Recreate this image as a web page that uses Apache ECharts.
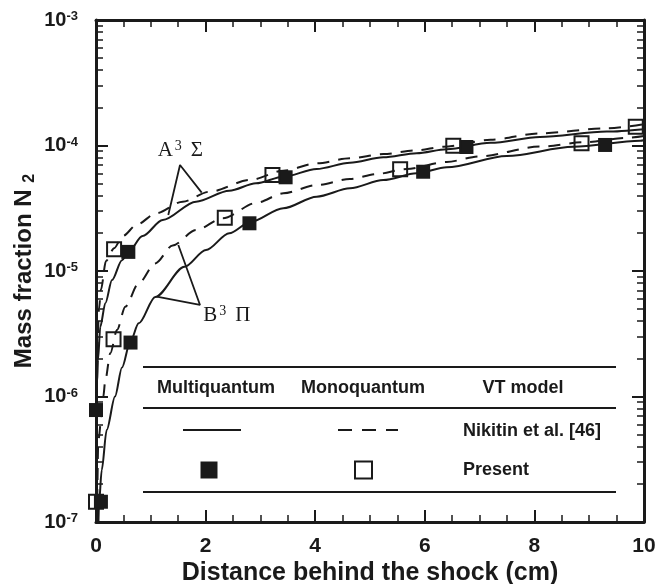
<!DOCTYPE html>
<html>
<head>
<meta charset="utf-8">
<script src="https://cdn.jsdelivr.net/npm/echarts@6/dist/echarts.min.js"></script>
<style>
  html, body { margin: 0; padding: 0; background: #ffffff; }
  #chart { width: 658px; height: 584px; }
</style>
</head>
<body>
<div id="chart"></div>
<script>
// N2 excited-state mass fractions behind the shock: [distance (cm), mass fraction]
const aMultiCurve = [
  [0.003, 1.0e-7], [0.006, 3.0e-7], [0.010, 7.8e-7], [0.020, 1.3e-6], [0.036, 1.95e-6],
  [0.078, 3.6e-6], [0.170, 5.53e-6], [0.292, 8.47e-6], [0.474, 1.22e-5], [0.59, 1.42e-5],
  [0.85, 1.9e-5], [1.217, 2.55e-5], [1.825, 3.57e-5], [2.432, 4.36e-5], [2.920, 5.0e-5],
  [3.418, 5.64e-5], [4.027, 6.5e-5], [4.635, 7.29e-5], [5.243, 8.05e-5], [5.852, 8.67e-5],
  [6.400, 9.33e-5], [7.2, 1.05e-4], [8.10, 1.17e-4], [9.32, 1.29e-4], [10.0, 1.35e-4]
];
const aMonoCurve = [
  [0.002, 1.0e-7], [0.005, 3.0e-7], [0.010, 1.0e-6], [0.025, 2.5e-6], [0.055, 5.0e-6],
  [0.090, 7.1e-6], [0.182, 1.2e-5], [0.33, 1.52e-5], [0.487, 1.9e-5], [0.75, 2.35e-5],
  [1.095, 2.88e-5], [1.582, 3.57e-5], [2.068, 4.28e-5], [2.810, 5.31e-5], [3.418, 6.3e-5],
  [4.027, 7.21e-5], [4.635, 7.91e-5], [5.243, 8.55e-5], [5.852, 9.15e-5], [6.338, 9.77e-5],
  [7.2, 1.11e-4], [8.10, 1.25e-4], [9.32, 1.37e-4], [10.0, 1.48e-4]
];
const bMultiCurve = [
  [0.045, 1.0e-7], [0.055, 1.41e-7], [0.104, 2.59e-7], [0.195, 5.41e-7], [0.347, 1.0e-6],
  [0.474, 1.7e-6], [0.626, 2.74e-6], [0.779, 3.83e-6], [1.082, 6.21e-6], [1.615, 1.08e-5],
  [2.007, 1.47e-5], [2.432, 2.0e-5], [2.810, 2.45e-5], [3.418, 3.16e-5], [4.027, 3.91e-5],
  [4.635, 4.56e-5], [5.243, 5.31e-5], [5.852, 6.0e-5], [6.400, 6.7e-5], [7.495, 8.24e-5],
  [8.71, 9.77e-5], [9.93, 1.09e-4], [10.0, 1.1e-4]
];
const bMonoCurve = [
  [0.018, 1.0e-7], [0.042, 4.5e-7], [0.133, 1.0e-6], [0.170, 1.35e-6], [0.261, 2.21e-6],
  [0.383, 3.39e-6], [0.535, 5.2e-6], [0.779, 7.98e-6], [1.082, 1.15e-5], [1.400, 1.6e-5],
  [1.825, 2.12e-5], [2.312, 2.63e-5], [2.932, 3.5e-5], [3.418, 4.16e-5], [4.027, 4.84e-5],
  [4.635, 5.4e-5], [5.122, 5.93e-5], [5.670, 6.5e-5], [6.400, 7.4e-5], [7.0, 8.2e-5],
  [8.10, 9.8e-5], [8.90, 1.06e-4], [9.68, 1.15e-4], [10.0, 1.19e-4]
];
// Present computations: multiquantum (filled) and monoquantum (open)
const multiPresent = [
  [0.0, 7.8e-7], [0.09, 1.45e-7], [0.59, 1.42e-5], [0.63, 2.69e-6], [2.80, 2.40e-5],
  [3.46, 5.58e-5], [5.97, 6.18e-5], [6.76, 9.73e-5], [9.29, 1.01e-4]
];
const monoPresent = [
  [0.0, 1.45e-7], [0.32, 2.86e-6], [0.33, 1.49e-5], [2.35, 2.66e-5], [3.22, 5.82e-5],
  [5.55, 6.46e-5], [6.52, 9.95e-5], [8.86, 1.04e-4], [9.85, 1.41e-4]
];
// Axis ticks
const xTickValues = [0, 2, 4, 6, 8, 10];
const yTickValues = [1e-7, 1e-6, 1e-5, 1e-4, 1e-3];
const yMinorSteps = [2, 3, 4, 5, 6, 7, 8, 9];
// State labels and their leader lines
const stateLabels = [
  { name: 'A', sym: 'Σ', at: [1.126, 9.2e-5] },
  { name: 'B', sym: 'Π', at: [1.958, 4.46e-6] }
];
const aPointer = [[1.319, 2.79e-5], [1.533, 7.0e-5], [1.929, 4.21e-5]];
const bPointer = [[1.502, 1.61e-5], [1.898, 5.36e-6], [1.108, 6.24e-6]];
// Legend table text
const legendHeaders = ['Multiquantum', 'Monoquantum', 'VT model'];
const legendRows = ['Nikitin et al. [46]', 'Present'];

const INK = '#1a1a1a';
const SANS = '"Liberation Sans", Arial, sans-serif';
const SERIF = '"Liberation Serif", "Times New Roman", serif';

const yMinorValues = [];
yTickValues.slice(0, -1).forEach(d => yMinorSteps.forEach(k => yMinorValues.push(+(k * d).toPrecision(3))));

const chart = echarts.init(document.getElementById('chart'), null, { renderer: 'canvas' });

const frame = { show: true, lineStyle: { color: INK, width: 3 } };
const majorTick = { show: true, inside: true, length: 12, lineStyle: { color: INK, width: 2 } };
const minorTickY = { show: true, inside: true, length: 7, lineStyle: { color: INK, width: 1.5 }, customValues: yMinorValues };

function yAxisPair(position, withLabels) {
  const base = { type: 'log', logBase: 10, min: 1e-7, max: 1e-3, position: position, splitLine: { show: false } };
  return [
    Object.assign({}, base, {
      axisLine: frame,
      axisTick: Object.assign({}, majorTick, { customValues: yTickValues }),
      axisLabel: withLabels ? {
        show: true, margin: 18, customValues: yTickValues,
        formatter: v => '{b|10}{s|' + Math.round(Math.log10(v)) + '}',
        rich: {
          b: { fontFamily: SANS, fontWeight: 'bold', fontSize: 20, color: INK },
          s: { fontFamily: SANS, fontWeight: 'bold', fontSize: 13, color: INK, verticalAlign: 'top' }
        }
      } : { show: false },
      name: withLabels ? '{m|Mass fraction N }{sub|2}' : '',
      nameLocation: 'middle',
      nameGap: 58,
      nameMoveOverlap: false,
      nameTextStyle: {
        rich: {
          m: { fontFamily: SANS, fontWeight: 'bold', fontSize: 24, color: INK, lineHeight: 28 },
          sub: { fontFamily: SANS, fontWeight: 'bold', fontSize: 16, color: INK, verticalAlign: 'bottom', lineHeight: 8 }
        }
      }
    }),
    Object.assign({}, base, {
      axisLine: { show: false },
      axisTick: minorTickY,
      axisLabel: { show: false }
    })
  ];
}

function xAxisDef(position, withLabels) {
  return {
    type: 'value', min: 0, max: 10, interval: 2, position: position,
    splitLine: { show: false },
    axisLine: frame,
    axisTick: majorTick,
    minorTick: { show: true, splitNumber: 4, length: 7, lineStyle: { color: INK, width: 1.5 } },
    axisLabel: withLabels ? {
      show: true, margin: 14, customValues: xTickValues,
      fontFamily: SANS, fontWeight: 'bold', fontSize: 21, color: INK
    } : { show: false },
    name: withLabels ? 'Distance behind the shock (cm)' : '',
    nameLocation: 'middle',
    nameGap: 39,
    nameMoveOverlap: false,
    nameTextStyle: { fontFamily: SANS, fontWeight: 'bold', fontSize: 25, color: INK }
  };
}

function curve(name, data, dashed) {
  return {
    name: name, type: 'line', data: data, xAxisIndex: 0, yAxisIndex: 0,
    showSymbol: false, smooth: 0.3, smoothMonotone: 'x', silent: true,
    lineStyle: { color: INK, width: 2, type: dashed ? [12, 9] : 'solid' },
    z: 3
  };
}

function pointer(data) {
  return {
    type: 'line', data: data, xAxisIndex: 0, yAxisIndex: 0, showSymbol: false, silent: true,
    lineStyle: { color: INK, width: 1.8 }, z: 4
  };
}

// Legend table (drawn inside the plot area)
const tableLeft = 143, tableRight = 616;
const legendGraphic = [];
[367, 408, 492].forEach(y => legendGraphic.push({
  type: 'line', shape: { x1: tableLeft, y1: y, x2: tableRight, y2: y },
  style: { stroke: INK, lineWidth: 2 }, z: 10
}));
const headerX = [216, 363, 523];
legendHeaders.forEach((t, i) => legendGraphic.push({
  type: 'text', x: headerX[i], y: 388, z: 10,
  style: { text: t, font: 'bold 18px ' + SANS, fill: INK, align: 'center', verticalAlign: 'middle' }
}));
legendGraphic.push({ type: 'line', shape: { x1: 183, y1: 430, x2: 241, y2: 430 }, style: { stroke: INK, lineWidth: 2 }, z: 10 });
legendGraphic.push({ type: 'line', shape: { x1: 338, y1: 430, x2: 398, y2: 430 }, style: { stroke: INK, lineWidth: 2, lineDash: [14, 10] }, z: 10 });
legendGraphic.push({ type: 'rect', shape: { x: 200.5, y: 461.5, width: 17, height: 17 }, style: { fill: INK }, z: 10 });
legendGraphic.push({ type: 'rect', shape: { x: 355, y: 461.5, width: 17, height: 17 }, style: { fill: 'none', stroke: INK, lineWidth: 2 }, z: 10 });
const rowY = [431, 470];
legendRows.forEach((t, i) => legendGraphic.push({
  type: 'text', x: 463, y: rowY[i], z: 10,
  style: { text: t, font: 'bold 18px ' + SANS, fill: INK, align: 'left', verticalAlign: 'middle' }
}));

const option = {
  backgroundColor: '#ffffff',
  animation: false,
  grid: { left: 96, right: 14, top: 20, bottom: 62, containLabel: false, outerBoundsMode: 'none' },
  xAxis: [xAxisDef('bottom', true), xAxisDef('top', false)],
  yAxis: [].concat(yAxisPair('left', true), yAxisPair('right', false)),
  series: [
    curve('A multiquantum', aMultiCurve, false),
    curve('A monoquantum', aMonoCurve, true),
    curve('B multiquantum', bMultiCurve, false),
    curve('B monoquantum', bMonoCurve, true),
    pointer(aPointer),
    pointer(bPointer),
    {
      name: 'Multiquantum, present', type: 'scatter', data: multiPresent,
      symbol: 'rect', symbolSize: 14, silent: true,
      itemStyle: { color: INK, opacity: 1 }, z: 5
    },
    {
      name: 'Monoquantum, present', type: 'scatter', data: monoPresent,
      symbol: 'rect', symbolSize: 14, silent: true,
      itemStyle: { color: 'rgba(0,0,0,0)', borderColor: INK, borderWidth: 2, opacity: 1 }, z: 5
    },
    {
      type: 'scatter', symbolSize: 0, silent: true, z: 6,
      itemStyle: { opacity: 1 },
      data: stateLabels.map(s => ({ value: s.at, label: { formatter: '{t|' + s.name + '}{s|3}{t|' + s.sym + '}' } })),
      label: {
        show: true, position: 'right', distance: 0,
        rich: {
          t: { fontFamily: SERIF, fontSize: 21, color: INK },
          s: { fontFamily: SERIF, fontSize: 14, color: INK, verticalAlign: 'top', padding: [0, 9, 0, 2] }
        }
      }
    }
  ],
  graphic: legendGraphic
};

chart.setOption(option);
</script>
</body>
</html>
